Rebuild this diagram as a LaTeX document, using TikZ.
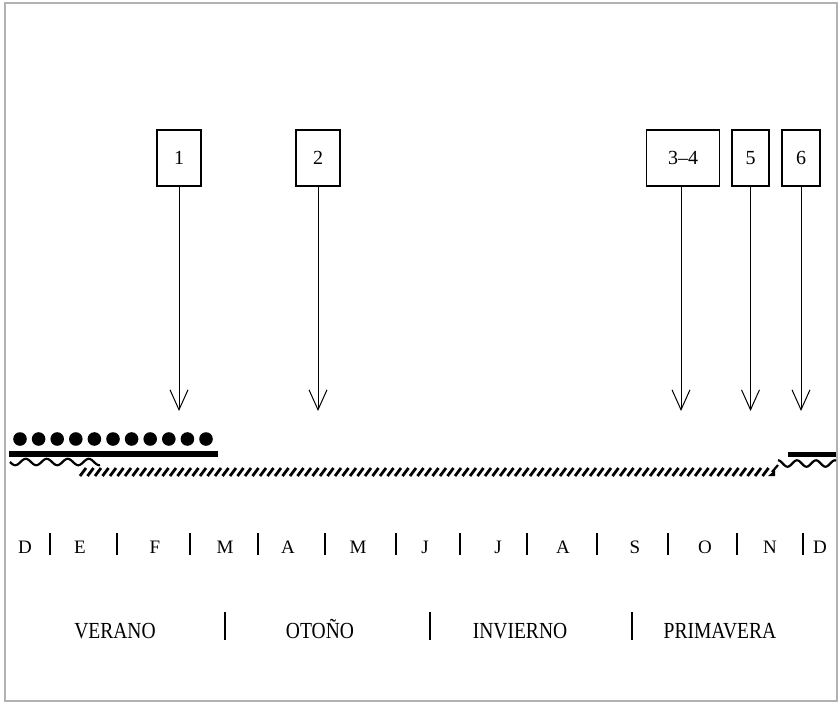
\documentclass[tikz,border=0pt]{standalone}
\usepackage{fontspec}
\setmainfont{Liberation Serif}
\usetikzlibrary{arrows.meta}
\begin{document}
\begin{tikzpicture}[x=1pt,y=-1pt,
  evbox/.style={draw, line width=1.1pt, minimum height=56pt, inner sep=0pt, font=\fontsize{20}{22}\selectfont},
  evarrow/.style={line width=1pt, -{Straight Barb[length=20pt,width=18pt,line width=1pt]}},
  month/.style={font=\fontsize{19}{21}\selectfont, inner sep=0pt, anchor=base},
  season/.style={font=\fontsize{23}{25}\selectfont, inner sep=0pt, xscale=0.85, anchor=base},
  sep/.style={line width=1.1pt},
  wave/.style={line width=2.2pt},
  hatch/.style={line width=2.8pt}]
\useasboundingbox (0,0) rectangle (840,704);
\draw[gray!60, line width=1.5pt] (5,3) rectangle (837,701);

% event boxes
\node[evbox, minimum width=44pt] (b1) at (179,158) {1};
\node[evbox, minimum width=44pt] (b2) at (318,158) {2};
\node[evbox, minimum width=73pt] (b3) at (683,158) {3–4};
\node[evbox, minimum width=37pt] (b5) at (750.5,158) {5};
\node[evbox, minimum width=38pt] (b6) at (801,158) {6};
\coordinate (t1) at (179,411);
\coordinate (t2) at (318,411);
\coordinate (t3) at (681,411);
\coordinate (t5) at (750.5,411);
\coordinate (t6) at (801,411);
\draw[evarrow] (b1.south) -- (t1);
\draw[evarrow] (b2.south) -- (t2);
\draw[evarrow] (b3.south -| t3) -- (t3);
\draw[evarrow] (b5.south) -- (t5);
\draw[evarrow] (b6.south) -- (t6);

% dots
\foreach \i in {0,...,10} \fill ({20+18.6*\i},439) circle (6.8pt);
% thick bars
\draw[line width=6pt] (9,454) -- (218,454);
\draw[line width=5.5pt] (788,454.5) -- (836,454.5);
% waves
\draw[wave] plot[domain=10:100, samples=90, smooth] (\x,{462+3.2*sin(17.143*(\x-10))});
\draw[wave] (772,472) -- (778,465) plot[domain=778:836, samples=60, smooth] (\x,{463.5-3.2*cos(18.947*(\x-778))});
% hatched band
\foreach \x in {80,87.5,...,768} \draw[hatch] (\x,476) -- (\x+6,468);
\fill (768,476) -- (775,476) -- (775,470) -- cycle;

% months
\foreach \x/\m in {25/D,80/E,155/F,225/M,288/A,358/M,425/J,498/J,563/A,635/S,705/O,770/N,820/D}
  \node[month] at (\x,553) {\m};
\foreach \x in {50,117,190,258,325,396,460,527,597,668,737,803}
  \draw[sep] (\x,533) -- (\x,555);

% seasons
\node[season] (ver) at (115,638) {VERANO};
\node[season] (oto) at (320,638) {OTOÑO};
\node[season] (inv) at (520,638) {INVIERNO};
\node[season] (pri) at (720,638) {PRIMAVERA};
\foreach \x in {225,430,632}
  \draw[sep] (\x,612) -- (\x,640);
\end{tikzpicture}
\end{document}
